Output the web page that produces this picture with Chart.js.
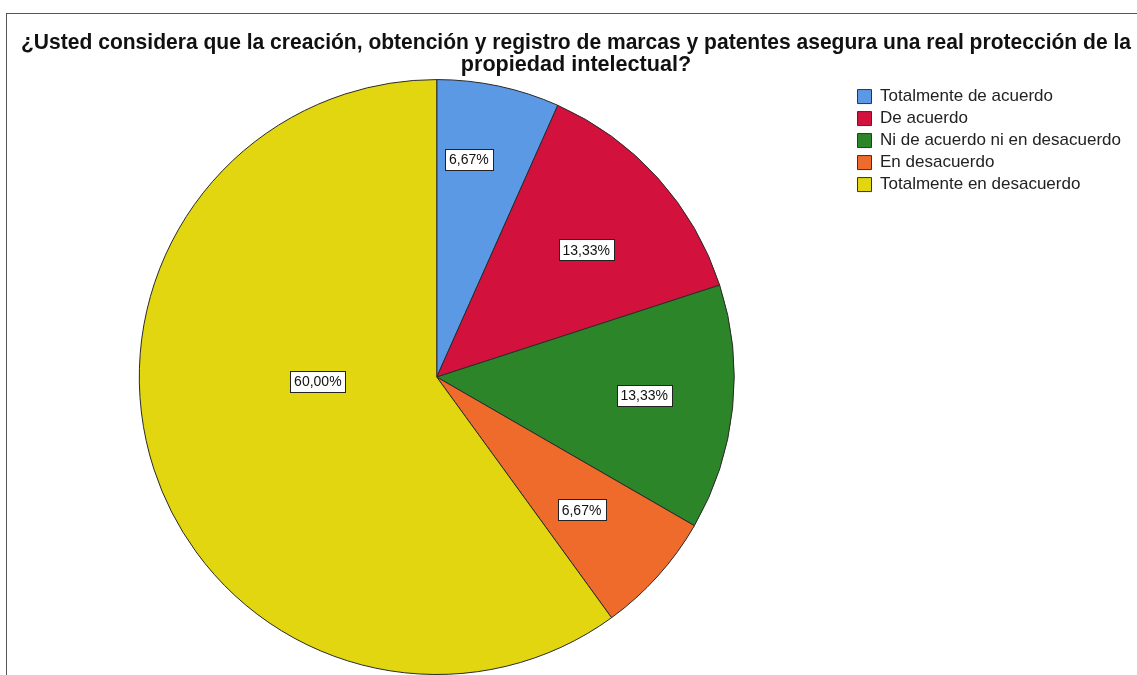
<!DOCTYPE html>
<html>
<head>
<meta charset="utf-8">
<script src="https://cdn.jsdelivr.net/npm/chart.js@4.4.1/dist/chart.umd.min.js"></script>
<style>
  html, body { margin: 0; padding: 0; background: #fff; }
  #wrap { position: relative; width: 1137px; height: 675px; overflow: hidden; }
  #frame { position: absolute; left: 6px; top: 13px; width: 1200px; height: 700px;
           border-top: 1px solid #555; border-left: 1px solid #555; }
  canvas { position: absolute; left: 0; top: 0; }
</style>
</head>
<body>
<div id="wrap">
  <div id="frame"></div>
  <canvas id="piechart" width="1137" height="675"></canvas>
</div>
<script>
const categories = [
  "Totalmente de acuerdo",
  "De acuerdo",
  "Ni de acuerdo ni en desacuerdo",
  "En desacuerdo",
  "Totalmente en desacuerdo"
];
const percentages = [6.67, 13.33, 13.33, 6.67, 60.00];
const titleLines = [
  "¿Usted considera que la creación, obtención y registro de marcas y patentes asegura una real protección de la",
  "propiedad intelectual?"
];
const sliceColors = ["#5C99E5", "#D2123C", "#2C8529", "#EF6B2B", "#E1D60F"];

// posición de cada etiqueta: fracción del radio y desplazamiento en grados
const labelPlacement = [
  { frac: 0.74, shift: -3.6 },
  { frac: 0.66, shift: 1.6 },
  { frac: 0.70, shift: -1 },
  { frac: 0.66, shift: 0.5 },
  { frac: 0.40, shift: 16 }
];

const fontFamily = '"Liberation Sans", Arial, sans-serif';

const boxedLabels = {
  id: "boxedLabels",
  afterDatasetsDraw(chart) {
    const ctx = chart.ctx;
    const meta = chart.getDatasetMeta(0);
    ctx.save();
    ctx.font = "14px " + fontFamily;
    ctx.textAlign = "center";
    ctx.textBaseline = "middle";
    meta.data.forEach((arc, i) => {
      const p = arc.getProps(["x", "y", "startAngle", "endAngle", "outerRadius"], true);
      const place = labelPlacement[i];
      const a = (p.startAngle + p.endAngle) / 2 + place.shift * Math.PI / 180;
      const r = p.outerRadius * place.frac;
      const cx = p.x + Math.cos(a) * r;
      const cy = p.y + Math.sin(a) * r;
      const txt = percentages[i].toFixed(2).replace(".", ",") + "%";
      const w = Math.round(ctx.measureText(txt).width + 8);
      const h = 21;
      const bx = Math.round(cx - w / 2) + 0.5;
      const by = Math.round(cy - h / 2) + 0.5;
      ctx.fillStyle = "#fff";
      ctx.fillRect(bx, by, w, h);
      ctx.strokeStyle = "#222";
      ctx.lineWidth = 1;
      ctx.strokeRect(bx, by, w, h);
      ctx.fillStyle = "#111";
      ctx.fillText(txt, cx, cy + 1);
    });
    ctx.restore();
  }
};

new Chart("piechart", {
  type: "pie",
  data: {
    labels: categories,
    datasets: [{
      data: percentages,
      backgroundColor: sliceColors,
      borderColor: "#2a2a2a",
      borderWidth: 1
    }]
  },
  options: {
    responsive: false,
    animation: false,
    layout: { padding: { left: 21, right: 6, top: 0, bottom: 0 } },
    plugins: {
      title: {
        display: true,
        text: titleLines,
        color: "#111",
        font: { family: fontFamily, size: 21.6, weight: "bold", lineHeight: 1.02 },
        padding: { top: 32, bottom: 3 }
      },
      legend: {
        position: "right",
        align: "start",
        fullSize: false,
        title: {
          display: true,
          text: " ",
          font: { size: 2, lineHeight: 1 },
          padding: { top: 2, bottom: 0 }
        },
        labels: {
          color: "#222",
          font: { family: fontFamily, size: 17 },
          boxWidth: 14,
          boxHeight: 14,
          padding: 5,
          generateLabels(chart) {
            return categories.map((c, i) => ({
              text: c,
              fillStyle: sliceColors[i],
              strokeStyle: "#333",
              fontColor: "#222",
              lineWidth: 1,
              index: i
            }));
          }
        }
      },
      tooltip: { enabled: false }
    }
  },
  plugins: [boxedLabels]
});
</script>
</body>
</html>
